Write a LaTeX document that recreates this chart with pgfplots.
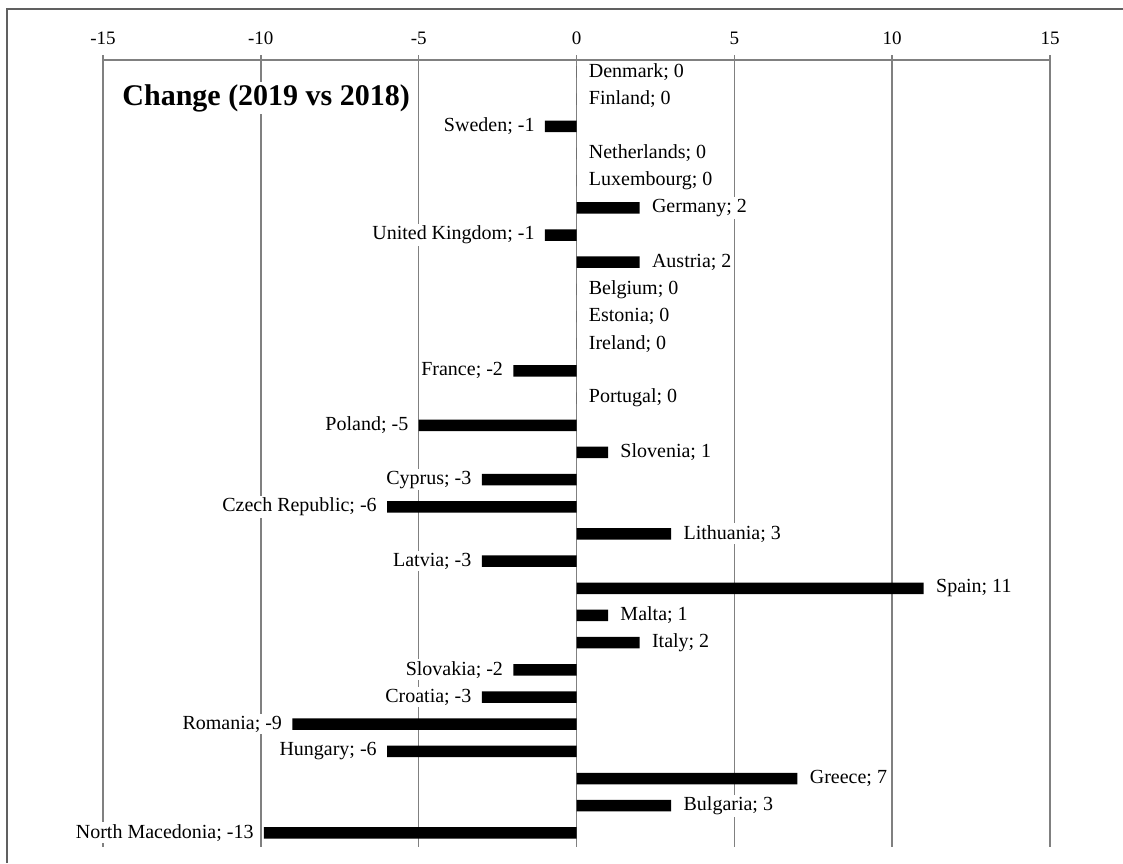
\documentclass[border=0pt]{standalone}
\usepackage{pgfplots}
\pgfplotsset{compat=1.18}
\usepackage{pgfplotstable}
\usepackage{fontspec}
\setmainfont{Liberation Serif}

% idx: row from top; val: bar length as drawn; lv: value printed in the label
\pgfplotstableread[col sep=comma]{
idx,val,lv,lab
0,0,0,Denmark
1,0,0,Finland
3,0,0,Netherlands
4,0,0,Luxembourg
5,2,2,Germany
7,2,2,Austria
8,0,0,Belgium
9,0,0,Estonia
10,0,0,Ireland
12,0,0,Portugal
14,1,1,Slovenia
17,3,3,Lithuania
19,11,11,Spain
20,1,1,Malta
21,2,2,Italy
26,7,7,Greece
27,3,3,Bulgaria
}\posdata

\pgfplotstableread[col sep=comma]{
idx,val,lv,lab
2,-1,-1,Sweden
6,-1,-1,United Kingdom
11,-2,-2,France
13,-5,-5,Poland
15,-3,-3,Cyprus
16,-6,-6,Czech Republic
18,-3,-3,Latvia
22,-2,-2,Slovakia
23,-3,-3,Croatia
24,-9,-9,Romania
25,-6,-6,Hungary
28,-9.9,-13,North Macedonia
}\negdata

\begin{document}
\begin{tikzpicture}
\useasboundingbox (-51.5pt,30pt) rectangle (510pt,-401.5pt);
\draw[gray!75!black, line width=0.9pt] (-48pt,-401.5pt) -- (-48pt,25.5pt) -- (510pt,25.5pt);
\begin{axis}[
  at={(0pt,0pt)}, anchor=north west,
  scale only axis,
  width=473.5pt, height=393.5pt,
  xmin=-15, xmax=15,
  ymin=-0.44, ymax=28.52,
  y dir=reverse,
  axis x line*=top,
  axis y line=none,
  xtick={-15,-10,-5,0,5,10,15},
  ytick=\empty,
  tick align=outside,
  major tick length=2.5pt,
  xmajorgrids,
  major grid style={gray, line width=0.7pt},
  every tick/.append style={gray, line width=0.7pt},
  x axis line style={gray, line width=0.7pt},
  xticklabel style={font=\fontsize{9.5}{11}\selectfont, yshift=1.5pt},
  /pgf/number format/assume math mode=true,
  clip=false,
  xbar,
  bar width=5.75pt,
  bar shift=0pt,
]
\addplot[fill=black, draw=none,
  visualization depends on={\thisrow{lv}\as\myval},
  point meta=explicit symbolic,
  nodes near coords={\pgfplotspointmeta; \pgfmathprintnumber[int detect]{\myval}},
  nodes near coords style={anchor=west, xshift=5pt, fill=white, inner sep=1pt, text=black, font=\fontsize{10}{12}\selectfont},
] table[x=val, y=idx, meta=lab] {\posdata};
\addplot[fill=black, draw=none,
  visualization depends on={\thisrow{lv}\as\myval},
  point meta=explicit symbolic,
  nodes near coords={\pgfplotspointmeta; \pgfmathprintnumber[int detect]{\myval}},
  nodes near coords style={anchor=east, xshift=-4pt, fill=white, inner sep=1pt, text=black, font=\fontsize{10}{12}\selectfont},
] table[x=val, y=idx, meta=lab] {\negdata};
\node[anchor=west, fill=white, inner sep=1pt, font=\bfseries\fontsize{15}{18}\selectfont] at (axis cs:-14.46,0.96) {Change (2019 vs 2018)};
\end{axis}
\end{tikzpicture}
\end{document}
